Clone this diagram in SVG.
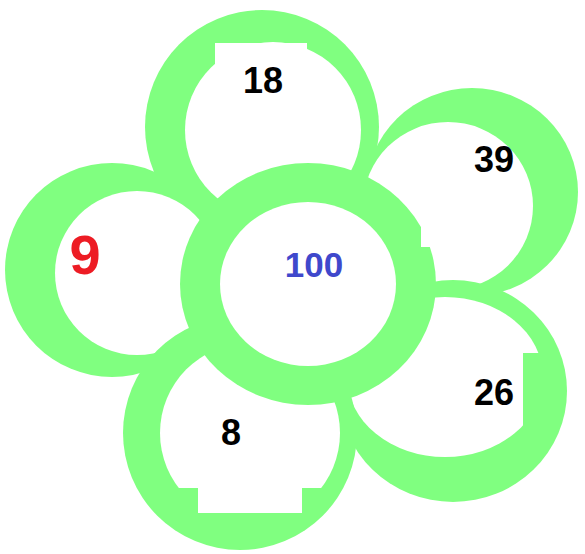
<svg xmlns="http://www.w3.org/2000/svg" width="585" height="554" viewBox="0 0 585 554">
<style>
.g{fill:#80ff80}
.w{fill:#ffffff}
.t{font-family:"Liberation Sans",Arial,sans-serif;font-weight:bold;text-anchor:middle}
</style>
<defs>
<clipPath id="clipBL"><circle cx="250" cy="433" r="90"/></clipPath>
</defs>
<rect width="585" height="554" fill="#ffffff"/>
<g id="petal-top">
<circle class="g" cx="262" cy="127" r="117"/>
<circle class="w" cx="273" cy="130" r="88"/>
<rect class="w" x="215" y="43" width="92" height="24"/>
</g>
<g id="petal-left">
<circle class="g" cx="112" cy="270" r="107"/>
<circle class="w" cx="137" cy="273" r="82"/>
</g>
<g id="petal-right">
<ellipse class="g" cx="472" cy="192" rx="106" ry="104"/>
<ellipse class="w" cx="448" cy="206" rx="85" ry="84"/>
<rect class="g" x="522" y="125" width="22" height="40"/>
</g>
<g id="petal-bottom-right">
<ellipse class="g" cx="453" cy="391" rx="114" ry="111"/>
<ellipse class="w" cx="445" cy="377" rx="98" ry="80"/>
<rect class="g" x="523" y="353" width="24" height="97"/>
</g>
<g id="petal-bottom-left">
<circle class="g" cx="240" cy="433" r="117"/>
<polygon class="w" clip-path="url(#clipBL)" points="150,330 350,330 350,488 150,488"/>
<rect class="w" x="198" y="480" width="104" height="33"/>
</g>
<g id="center">
<ellipse class="g" cx="308" cy="284" rx="128" ry="121"/>
<ellipse class="w" cx="308" cy="284" rx="88" ry="82"/>
<rect class="w" x="421" y="205" width="20" height="42"/>
</g>
<g id="labels">
<text class="t" x="263" y="93" font-size="36" fill="#000000">18</text>
<text class="t" x="494" y="172" font-size="36" fill="#000000">39</text>
<text class="t" x="494" y="405" font-size="36" fill="#000000">26</text>
<text class="t" x="231" y="445" font-size="36" fill="#000000">8</text>
<text class="t" x="85" y="274" font-size="56" fill="#ed1c24">9</text>
<text class="t" x="314" y="277" font-size="35" fill="#3f48cc">100</text>
</g>
</svg>
